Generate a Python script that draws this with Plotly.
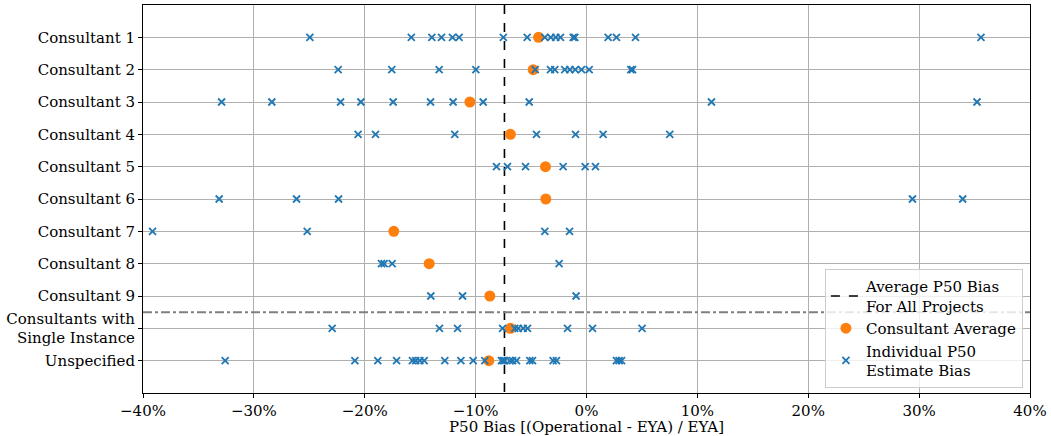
import plotly.graph_objects as go

categories = ["Consultant 1", "Consultant 2", "Consultant 3", "Consultant 4", "Consultant 5",
              "Consultant 6", "Consultant 7", "Consultant 8", "Consultant 9",
              "Consultants with<br>Single Instance", "Unspecified"]

c1 = [-24.95, -15.8, -13.95, -13.08, -12.09, -11.49, -7.5, -5.35, -3.76, -3.22, -2.77, -2.35,
      -1.2, -1.05, 1.95, 2.7, 4.42, 35.58]
c2 = [-22.4, -17.56, -13.29, -9.98, -4.63, -3.25, -2.86, -1.96, -1.5, -1.02, -0.45, 0.24, 4.0, 4.15]
c3 = [-32.91, -28.38, -22.18, -20.35, -17.44, -14.07, -12.03, -9.32, -5.17, 11.27, 35.22]
c4 = [-20.6, -19.03, -11.88, -4.51, -0.99, 1.5, 7.51]
c5 = [-8.12, -7.13, -5.5, -2.11, -0.12, 0.81]
c6 = [-33.13, -26.15, -22.36, 29.4, 33.93]
c7 = [-39.14, -25.19, -3.76, -1.53]
c8 = [-18.49, -18.25, -17.53, -2.47]
c9 = [-14.04, -11.18, -0.94]
single = [-22.94, -13.26, -11.63, -7.57, -6.47, -6.16, -5.71, -5.32, -1.71, 0.54, 5.01]
unspecified = [-32.59, -20.89, -18.82, -17.13, -15.7, -15.4, -15.03, -14.64, -12.78, -11.33,
               -10.22, -9.17, -7.52, -7.67, -7.37, -6.92, -6.67, -6.31, -5.11, -4.87,
               -3.01, -2.71, 2.7, 2.94, 3.16]

individual = [c1, c2, c3, c4, c5, c6, c7, c8, c9, single, unspecified]
consultant_avg = [-4.33, -4.81, -10.52, -6.86, -3.7, -3.67, -17.38, -14.19, -8.72, -6.86, -8.81]
overall_avg = -7.4
separator_after = 8  # index of last named consultant row

font_family = "DejaVu Serif"

fig = go.Figure()

# dashed average line
fig.add_trace(go.Scatter(
    x=[overall_avg, overall_avg], y=[-1, 11], mode="lines",
    line=dict(color="black", width=1.6, dash="dash"),
    name="Average P50 Bias<br>For All Projects"))

fig.add_trace(go.Scatter(
    x=consultant_avg, y=list(range(len(categories))), mode="markers",
    marker=dict(symbol="circle", color="#ff7f0e", size=11),
    name="Consultant Average"))

xs, ys = [], []
for i, vals in enumerate(individual):
    xs.extend(vals)
    ys.extend([i] * len(vals))
fig.add_trace(go.Scatter(
    x=xs, y=ys, mode="markers",
    marker=dict(symbol="x-thin", size=7, line=dict(color="#1f77b4", width=1.8), color="#1f77b4"),
    name="Individual P50<br>Estimate Bias"))

fig.add_shape(type="line", xref="paper", x0=0, x1=1, yref="y",
              y0=separator_after + 0.5, y1=separator_after + 0.5,
              line=dict(color="#808080", width=2, dash="dashdot"), layer="above")

fig.update_layout(
    width=1051, height=436,
    margin=dict(l=143, r=21, t=5, b=43, autoexpand=False),
    paper_bgcolor="white", plot_bgcolor="white",
    font=dict(family=font_family, size=15, color="black"),
    showlegend=True,
    legend=dict(x=0.992, y=0.013, xanchor="right", yanchor="bottom",
                bgcolor="rgba(255,255,255,0.8)", bordercolor="#cccccc", borderwidth=1,
                font=dict(family=font_family, size=15), tracegroupgap=0,
                itemwidth=30),
)

fig.update_xaxes(
    range=[-40, 40], dtick=10, tick0=0, ticksuffix="%", automargin=False,
    showgrid=True, gridcolor="#b0b0b0", gridwidth=1,
    showline=True, linecolor="black", linewidth=1, mirror=True,
    ticks="outside", ticklen=4, tickcolor="black", zeroline=False,
    title=dict(text="P50 Bias [(Operational - EYA) / EYA]", standoff=0,
               font=dict(family=font_family, size=15)),
)
fig.update_yaxes(
    range=[11, -1], tickvals=list(range(len(categories))), ticktext=categories,
    automargin=False,
    showgrid=True, gridcolor="#b0b0b0", gridwidth=1,
    showline=True, linecolor="black", linewidth=1, mirror=True,
    ticks="outside", ticklen=4, tickcolor="black", zeroline=False,
)

fig.write_html("out.html", config={"displayModeBar": False},
               post_script="document.body.style.margin='0';document.body.style.overflow='hidden';")
